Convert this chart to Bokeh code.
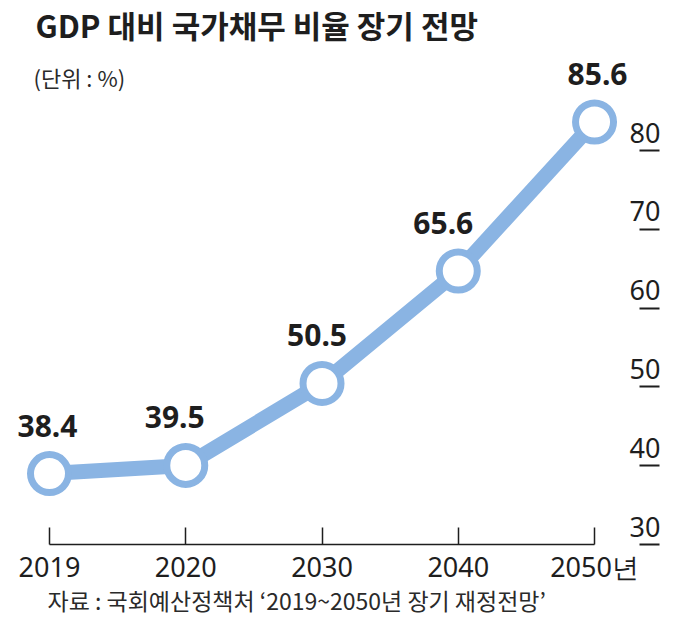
from bokeh.plotting import figure
from bokeh.models import Range1d, LinearAxis, FixedTicker, Title
from bokeh.models import Label
from bokeh.core.properties import value
from bokeh.embed import file_html
from bokeh.resources import INLINE

# ---- data ----
years = ["2019", "2020", "2030", "2040", "2050년"]
debt_ratio = [38.4, 39.5, 50.5, 65.6, 85.6]
value_labels = ["38.4", "39.5", "50.5", "65.6", "85.6"]
y_ticks = [30, 40, 50, 60, 70, 80]

title_text = "GDP 대비 국가채무 비율 장기 전망"
unit_text = "(단위 : %)"
source_text = "자료 : 국회예산정책처 ‘2019~2050년 장기 재정전망’"

# ---- style ----
BLUE = "#8AB4E3"
INK = "#1e1e1e"
KR = "Noto Sans CJK KR"
NUM = "Noto Sans"
label_dx = [-2, -11, -5, -15, 3]   # small horizontal nudges of the value labels (px)

xs = list(range(len(years)))

p = figure(width=670, height=621, output_backend="svg", toolbar_location=None,
           x_range=Range1d(-0.3596, 4.264), y_range=Range1d(28.88, 101.91),
           y_axis_location=None,
           min_border_left=0, min_border_right=40, min_border_top=0, min_border_bottom=77)
p.outline_line_color = None
p.grid.visible = False
p.background_fill_color = "white"
p.border_fill_color = "white"

# x axis
xa = p.xaxis[0]
xa.ticker = FixedTicker(ticks=xs)
xa.major_label_overrides = {i: y for i, y in enumerate(years)}
xa.bounds = (0, len(years) - 1)
xa.axis_line_color = INK
xa.axis_line_width = 1.5
xa.major_tick_line_color = INK
xa.major_tick_line_width = 1.5
xa.major_tick_in = 17
xa.major_tick_out = 0
xa.minor_tick_line_color = None
xa.major_label_standoff = 3
xa.major_label_text_font = NUM
xa.major_label_text_font_size = "27px"
xa.major_label_text_color = INK

# right axis with its own scale (as printed in the reference)
p.extra_y_ranges = {"lab": Range1d(27.72, 96.75)}
underline_shift = 2.28
ya = LinearAxis(y_range_name="lab",
                ticker=FixedTicker(ticks=y_ticks, minor_ticks=[t - underline_shift for t in y_ticks]),
                bounds=(25, 92))
ya.axis_line_color = None
ya.major_tick_line_color = None
ya.major_tick_in = 0
ya.major_tick_out = 0
ya.minor_tick_line_color = INK
ya.minor_tick_line_width = 2
ya.minor_tick_in = -9
ya.minor_tick_out = 29
ya.major_label_standoff = -30
ya.major_label_text_font = NUM
ya.major_label_text_font_size = "27px"
ya.major_label_text_color = INK
p.add_layout(ya, "right")

# source line under the axis
p.add_layout(Title(text=source_text, align="left", offset=47, standoff=-13,
                   text_font=KR, text_font_style="normal", text_font_size="23px",
                   text_color="#2a2a2a"), "below")

# data
p.line(xs, debt_ratio, line_color=BLUE, line_width=15)
p.scatter(xs, debt_ratio, size=38, fill_color="white", line_color=BLUE, line_width=7)
p.text(xs, debt_ratio, text=value_labels, x_offset=label_dx, y_offset=-48,
       text_align="center", text_baseline="middle",
       text_font=value(NUM), text_font_style="bold", text_font_size="30px",
       text_color=INK)

# title and unit note
p.add_layout(Label(x=35, y=520, x_units="screen", y_units="screen", text=title_text,
                   text_font=KR, text_font_style="bold", text_font_size="31px",
                   text_color=INK, text_baseline="middle"))
p.add_layout(Label(x=33, y=468, x_units="screen", y_units="screen", text=unit_text,
                   text_font=KR, text_font_size="22px", text_color="#2a2a2a",
                   text_baseline="middle"))

open("out.html", "w").write(file_html(p, INLINE))
